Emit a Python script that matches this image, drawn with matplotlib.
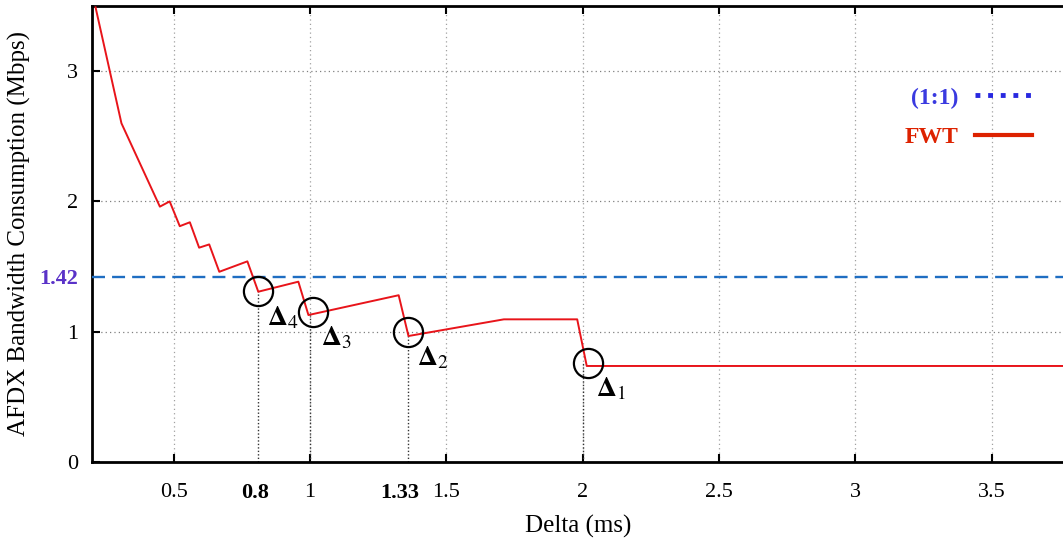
import numpy as np
import matplotlib
matplotlib.use('Agg')
import matplotlib.pyplot as plt
from matplotlib.lines import Line2D

plt.rcParams['font.family'] = ['Liberation Serif', 'DejaVu Serif']
plt.rcParams['mathtext.fontset'] = 'stix'

# FWT curve (Delta in ms, bandwidth in Mbps)
fwt_x = [0.213, 0.308, 0.449, 0.485, 0.522, 0.559, 0.593, 0.630, 0.667, 0.770,
         0.810, 0.957, 0.994, 1.325, 1.361, 1.711, 1.980, 2.015, 3.77]
fwt_y = [3.49, 2.60, 1.96, 2.00, 1.81, 1.84, 1.645, 1.67, 1.46, 1.54,
         1.307, 1.384, 1.128, 1.28, 0.967, 1.095, 1.095, 0.737, 0.737]

# (1:1) reference level
ref_level = 1.42

# marked points Delta_1 .. Delta_4
delta_names = ['1', '2', '3', '4']
delta_x = [2.02, 1.36, 1.01, 0.81]
delta_y = [0.76, 1.00, 1.15, 1.31]
delta_line_x = [2.0, 1.36, 1.0, 0.81]

grid_x = [0.5, 1, 1.5, 2, 2.5, 3, 3.5]
grid_y = [1, 2, 3]
extra_x = [0.8, 1.33]
extra_x_labels = ['0.8', '1.33']

fig = plt.figure(figsize=(10.63, 5.44), dpi=100)
ax = fig.add_axes([92/1063, 1 - 462/544, 1 - 92/1063 + 0.002, (462 - 6)/544])

for gx in grid_x:
    ax.axvline(gx, color='#a0a0a0', lw=0.9, ls=(0, (1, 2.5)), zorder=1)
for gy in grid_y:
    ax.axhline(gy, color='#808080', lw=0.9, ls=(0, (1, 2.5)), zorder=1)

# dark dotted drop lines under the marked points
for lx, ly in zip(delta_line_x, delta_y):
    ax.plot([lx, lx], [0, ly], color='#333333', lw=1.0, ls=(0, (1, 1.5)), zorder=2)

ax.axhline(ref_level, color='#1f6ec2', lw=1.7, dashes=(5.5, 3), zorder=3)
ax.plot(fwt_x, fwt_y, color='#e8141a', lw=1.4, zorder=4)

ax.plot(delta_x, delta_y, 'o', ms=21, mfc='none', mec='black', mew=1.6, zorder=5)
for nm, dx, dy in zip(delta_names, delta_x, delta_y):
    ax.annotate(r'$\mathbf{\Delta}_{%s}$' % nm, (dx, dy), xytext=(6, -19),
                textcoords='offset points', fontsize=20, ha='left', va='center')

ax.set_xlim(0.2, 3.77)
ax.set_ylim(0, 3.5)

xt = grid_x + extra_x
xl = ['0.5', '1', '1.5', '2', '2.5', '3', '3.5'] + extra_x_labels
ax.set_xticks(xt)
ax.set_xticklabels(xl)
ax.set_yticks([0, 1, 2, 3, ref_level])
ax.set_yticklabels(['0', '1', '2', '3', '1.42'])

ax.tick_params(axis='both', direction='in', length=6, width=1.5, labelsize=16)
ax.tick_params(axis='x', pad=15, top=True)
ax.tick_params(axis='y', pad=10)

xlabels = ax.get_xticklabels()
for i, t in enumerate(ax.xaxis.get_major_ticks()):
    if xt[i] in extra_x:
        t.tick1line.set_visible(False)
        t.tick2line.set_visible(False)
        xlabels[i].set_fontweight('bold')
ylabels = ax.get_yticklabels()
for i, t in enumerate(ax.yaxis.get_major_ticks()):
    if i == 4:
        t.tick1line.set_visible(False)
        ylabels[i].set_fontweight('bold')
        ylabels[i].set_color('#5a32c8')

for s in ['left', 'bottom', 'top']:
    ax.spines[s].set_linewidth(2)
ax.spines['right'].set_visible(False)

ax.set_xlabel('Delta (ms)', fontsize=18, labelpad=9)
ax.set_ylabel('AFDX Bandwidth Consumption (Mbps)', fontsize=18, labelpad=6)

handles = [Line2D([], [], color='#2828e0', lw=3.5, ls=(0, (1, 1.6))),
           Line2D([], [], color='#dd2200', lw=3)]
leg = ax.legend(handles, ['(1:1)', 'FWT'], loc='upper right', bbox_to_anchor=(0.966, 0.822),
                markerfirst=False, frameon=False, handlelength=2.4, handletextpad=0.7,
                borderpad=0, borderaxespad=0,
                labelspacing=0.75, prop={'size': 17, 'weight': 'bold'},
                labelcolor=['#3a3ae0', '#dd2200'])

fig.savefig('out.png', dpi=100)
